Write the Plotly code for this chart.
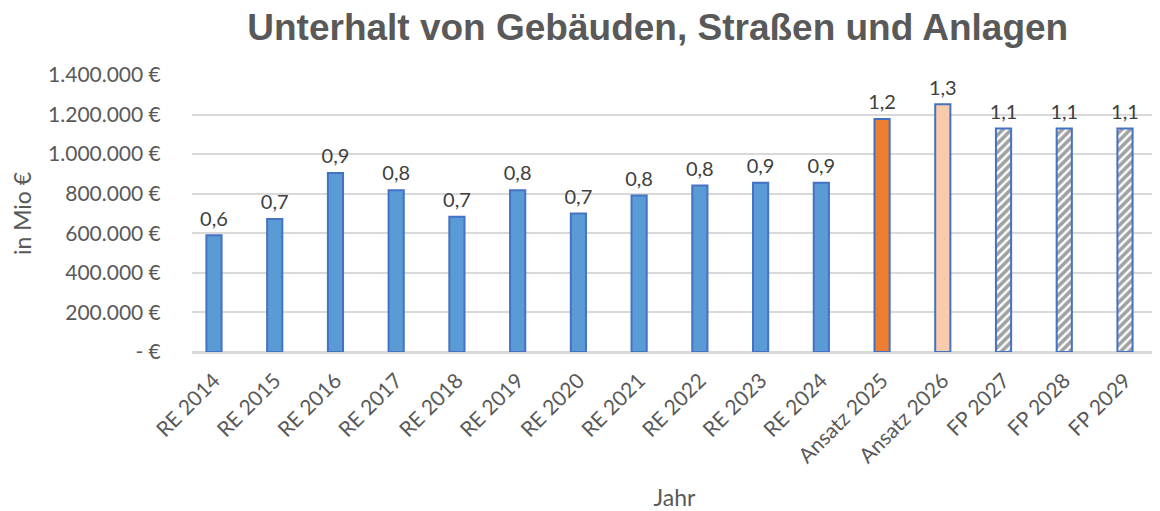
import plotly.graph_objects as go

categories = ["RE 2014", "RE 2015", "RE 2016", "RE 2017", "RE 2018", "RE 2019", "RE 2020",
              "RE 2021", "RE 2022", "RE 2023", "RE 2024", "Ansatz 2025", "Ansatz 2026",
              "FP 2027", "FP 2028", "FP 2029"]
values = [590000, 672000, 905000, 818000, 683000, 818000, 700000,
          791000, 842000, 855000, 856000, 1177000, 1252000,
          1130000, 1130000, 1130000]
y_tickvals = [0, 200000, 400000, 600000, 800000, 1000000, 1200000, 1400000]
y_ticktext = ["- €", "200.000 €", "400.000 €", "600.000 €", "800.000 €",
              "1.000.000 €", "1.200.000 €", "1.400.000 €"]

fill_colors = ["#5B9BD5"] * 11 + ["#ED7D31", "#F8CBAD"] + ["white"] * 3
pattern_shapes = [""] * 13 + ["/"] * 3
labels = [f"{v/1e6:.1f}".replace(".", ",") for v in values]

font_main = "Lato, Open Sans, sans-serif"

fig = go.Figure()
fig.add_trace(go.Bar(
    x=categories, y=values,
    width=0.25,
    marker=dict(
        color=fill_colors,
        line=dict(color="#4472C4", width=2),
        pattern=dict(shape=pattern_shapes, fgcolor="black", bgcolor="white",
                     size=6, solidity=0.6, fillmode="overlay"),
    ),
    hoverinfo="x+y",
))
fig.add_trace(go.Scatter(
    x=categories, y=values, mode="markers+text",
    marker=dict(size=6, opacity=0),
    text=labels, textposition="top center", cliponaxis=False,
    textfont=dict(size=20, color="#404040", family=font_main),
    hoverinfo="skip",
))

# page body has an 8px margin, so the figure is a bit smaller and margins shifted
fig.update_layout(
    width=1152, height=503,
    paper_bgcolor="white", plot_bgcolor="white",
    margin=dict(l=184, r=3, t=67, b=159),
    title=dict(text="<b>Unterhalt von Gebäuden, Straßen und Anlagen</b>",
               x=0.564, xanchor="center", y=0.962, yanchor="middle",
               font=dict(family="Liberation Sans, Arial, sans-serif", size=37, color="#595959")),
    showlegend=False,
    xaxis=dict(
        title=dict(text="Jahr", font=dict(size=23, color="#595959", family=font_main), standoff=30),
        tickangle=-45, tickfont=dict(size=21, color="#595959", family=font_main),
        range=[-0.362, len(categories) - 0.473],
        showline=True, linecolor="#D9D9D9", linewidth=2,
        ticks="outside", ticklen=6, tickcolor="white",
        automargin=False,
    ),
    yaxis=dict(
        title=dict(text="in Mio €", font=dict(size=23, color="#595959", family=font_main), standoff=38),
        range=[0, 1400000], tickvals=y_tickvals, ticktext=y_ticktext,
        tickfont=dict(size=21, color="#595959", family=font_main),
        showgrid=True, gridcolor="#D9D9D9", gridwidth=2,
        zeroline=True, zerolinecolor="#D9D9D9", zerolinewidth=2,
        ticks="outside", ticklen=26, tickcolor="white",
        automargin=False,
    ),
)

fig.write_html("out.html")
